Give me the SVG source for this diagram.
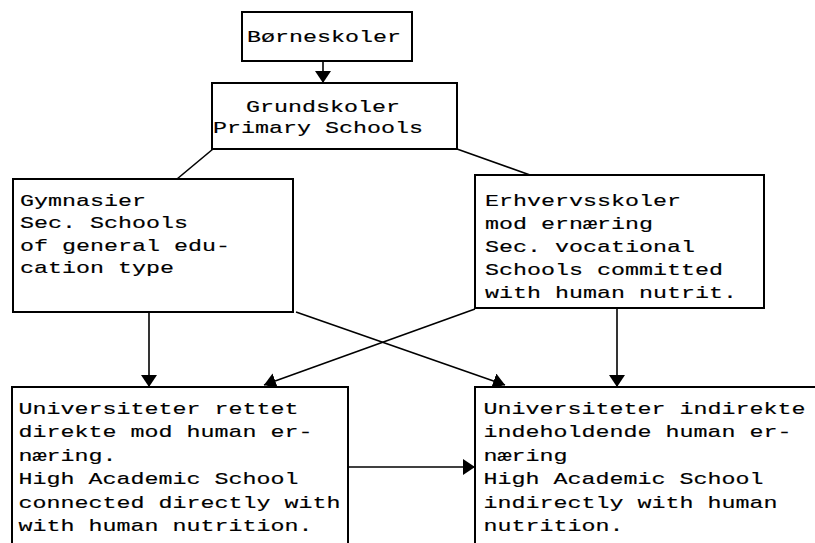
<svg xmlns="http://www.w3.org/2000/svg" width="815" height="543" viewBox="0 0 815 543">
<style>
.box{fill:#fff;stroke:#000;stroke-width:2}
.t{font-family:"Liberation Mono","Courier New",monospace;font-size:17px;fill:#000;stroke:#000;stroke-width:0.15}
.c{fill:none;stroke:#000;stroke-width:1.6}
.a{marker-end:url(#ah)}
</style>
<defs>
<marker id="ah" viewBox="0 0 12 16" refX="12" refY="8" markerWidth="12" markerHeight="16" markerUnits="userSpaceOnUse" orient="auto">
<path d="M0,0 L12,8 L0,16 z" fill="#000"/>
</marker>
</defs>
<rect width="815" height="543" fill="#fff"/>
<g id="connectors">
<line class="c a" x1="323" y1="61" x2="323" y2="83"/>
<line class="c" x1="213" y1="149" x2="177" y2="179"/>
<line class="c" x1="457" y1="149" x2="530" y2="175"/>
<line class="c a" x1="149" y1="312" x2="149" y2="387"/>
<line class="c a" x1="296" y1="312" x2="505" y2="385"/>
<line class="c a" x1="475" y1="309" x2="264" y2="385"/>
<line class="c a" x1="617" y1="309" x2="617" y2="387"/>
<line class="c a" x1="349" y1="467" x2="475" y2="467"/>
</g>
<g id="n1">
<rect class="box" x="242" y="12" width="170" height="49"/>
<g transform="translate(247 0) scale(1.3725 1)"><text class="t" x="0" y="42">Børneskoler</text></g>
</g>
<g id="n2">
<rect class="box" x="212" y="83" width="245" height="66"/>
<g transform="translate(246 0) scale(1.3725 1)"><text class="t" x="0" y="112">Grundskoler</text></g>
<g transform="translate(213 0) scale(1.3725 1)"><text class="t" x="0" y="133">Primary Schools</text></g>
</g>
<g id="n3">
<rect class="box" x="13" y="179" width="280" height="133"/>
<g transform="translate(20 0) scale(1.3725 1)">
<text class="t" x="0" y="206">Gymnasier</text>
<text class="t" x="0" y="228.5">Sec. Schools</text>
<text class="t" x="0" y="251">of general edu-</text>
<text class="t" x="0" y="273.5">cation type</text>
</g>
</g>
<g id="n4">
<rect class="box" x="475" y="175" width="289" height="133"/>
<g transform="translate(485 0) scale(1.3725 1)">
<text class="t" x="0" y="206">Erhvervsskoler</text>
<text class="t" x="0" y="229">mod ernæring</text>
<text class="t" x="0" y="252">Sec. vocational</text>
<text class="t" x="0" y="275">Schools committed</text>
<text class="t" x="0" y="298">with human nutrit.</text>
</g>
</g>
<g id="n5">
<rect class="box" x="12" y="387" width="336" height="180"/>
<g transform="translate(18.5 0) scale(1.3725 1)">
<text class="t" x="0" y="414">Universiteter rettet</text>
<text class="t" x="0" y="437.5">direkte mod human er-</text>
<text class="t" x="0" y="461">næring.</text>
<text class="t" x="0" y="484.5">High Academic School</text>
<text class="t" x="0" y="508">connected directly with</text>
<text class="t" x="0" y="531.5">with human nutrition.</text>
</g>
</g>
<g id="n6">
<rect class="box" x="475" y="387" width="360" height="180"/>
<g transform="translate(483.5 0) scale(1.3725 1)">
<text class="t" x="0" y="414">Universiteter indirekte</text>
<text class="t" x="0" y="437.5">indeholdende human er-</text>
<text class="t" x="0" y="461">næring</text>
<text class="t" x="0" y="484.5">High Academic School</text>
<text class="t" x="0" y="508">indirectly with human</text>
<text class="t" x="0" y="531.5">nutrition.</text>
</g>
</g>
</svg>
